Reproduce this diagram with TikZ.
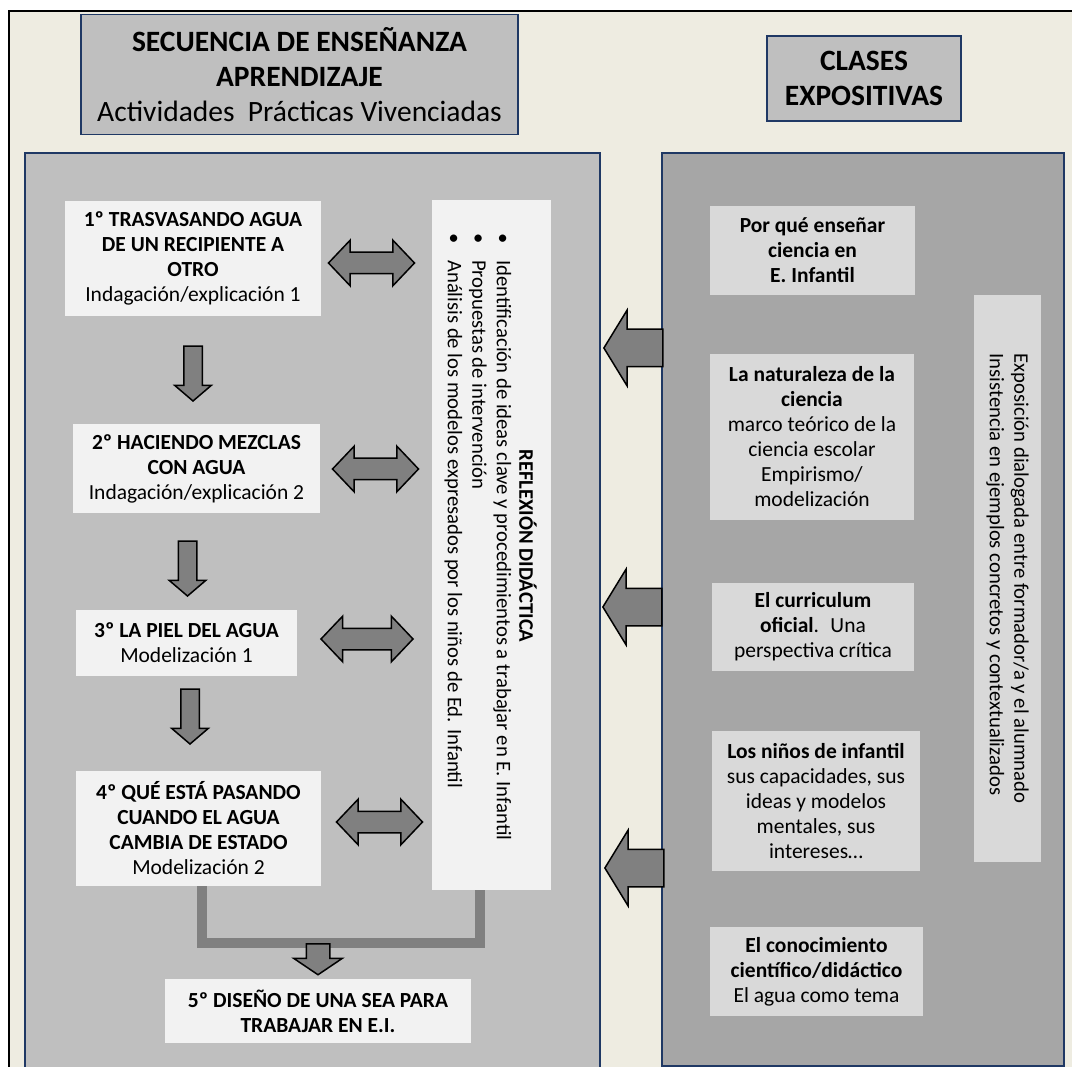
\documentclass[tikz,border=0pt]{standalone}
\usepackage{fontspec}
\setmainfont{Carlito}
\usetikzlibrary{shapes.arrows}

\definecolor{fondo}{HTML}{EEECE1}
\definecolor{marino}{HTML}{1F3864}
\definecolor{grisclaro}{HTML}{BFBFBF}
\definecolor{grismedio}{HTML}{A6A6A6}
\definecolor{griscaja}{HTML}{D9D9D9}
\definecolor{blanco}{HTML}{F2F2F2}
\definecolor{grisflecha}{HTML}{808080}

\begin{document}
\begin{tikzpicture}[x=1pt, y=-1pt,
        txt/.style={font=\fontsize{21.5}{25}\selectfont, align=center, inner sep=0pt},
        girado/.style={font=\fontsize{20.7}{24.5}\selectfont, inner sep=0pt, rotate=-90},
        cabecera/.style={draw=marino, line width=1.2pt, fill=grisclaro, inner sep=0pt,
            align=center, font=\fontsize{29.5}{35}\selectfont},
        actividad/.style={txt, fill=blanco},
        tema/.style={txt, fill=griscaja},
        bajada/.style={single arrow, draw=black, line width=1.5pt, fill=grisflecha,
            shape border rotate=270, inner xsep=8.5pt, inner ysep=0pt,
            minimum height=55pt, single arrow head extend=9pt,
            single arrow tip angle=99, anchor=tip},
        aporte/.style={single arrow, draw=black, line width=1.5pt, fill=grisflecha,
            shape border rotate=180, inner xsep=0pt, inner ysep=18pt,
            minimum height=59pt, single arrow head extend=19pt,
            single arrow tip angle=117, anchor=tip},
        vaiven/.style={double arrow, draw=black, line width=1.5pt, fill=grisflecha,
            inner xsep=0pt, inner ysep=10pt, minimum height=86pt,
            double arrow head extend=12pt, double arrow tip angle=93},
    ]
    \clip (0,0) rectangle (1072,1067);

    % ===== FONDO =====
    \fill[white] (0,0) rectangle (1072,1067);
    \fill[fondo] (9,11) rectangle (1072,1067);
    \draw[black, line width=2.5pt] (9,1070) -- (9,11) -- (1075,11);

    % ===== CABECERAS =====
    \node[cabecera, minimum width=437pt, minimum height=120pt] (secuencia) at (299.5,74.5)
        {\textbf{SECUENCIA DE ENSEÑANZA}\\\textbf{APRENDIZAJE}\\Actividades~ Prácticas Vivenciadas};
    \node[cabecera, minimum width=194pt, minimum height=85pt] (clases) at (864,78.5)
        {\textbf{CLASES}\\\textbf{EXPOSITIVAS}};

    % ===== PANELES =====
    \filldraw[fill=grisclaro, draw=marino, line width=2pt] (25,153) rectangle (600,1085);
    \filldraw[fill=grismedio, draw=marino, line width=2pt] (662,153) rectangle (1064,1066);

    % actividades practicas
    \node[actividad, minimum width=256pt, minimum height=115pt] (trasvase) at (193,258.5)
        {\textbf{1º TRASVASANDO AGUA}\\\textbf{DE UN RECIPIENTE A}\\\textbf{OTRO}\\Indagación/explicación 1};
    \node[actividad, minimum width=247pt, minimum height=89pt] (mezclas) at (196.5,468.5)
        {\textbf{2º HACIENDO MEZCLAS}\\\textbf{CON AGUA}\\Indagación/explicación 2};
    \node[actividad, minimum width=221pt, minimum height=66pt] (piel) at (186.5,643)
        {\textbf{3º LA PIEL DEL AGUA}\\Modelización 1};
    \node[actividad, minimum width=245pt, minimum height=115pt] (estado) at (198.5,828.5)
        {\textbf{4º QUÉ ESTÁ PASANDO}\\\textbf{CUANDO EL AGUA}\\\textbf{CAMBIA DE ESTADO}\\Modelización 2};
    \node[actividad, minimum width=306pt, minimum height=64pt] (diseno) at (318,1011)
        {\textbf{5º DISEÑO DE UNA SEA PARA}\\\textbf{TRABAJAR EN E.I.}};

    % reflexion didactica (texto girado)
    \node[actividad, minimum width=119pt, minimum height=690pt] (reflexion) at (491.5,545) {};
    \node[girado] (reflexiontit) at (528,546) {\textbf{REFLEXIÓN DIDÁCTICA}};
    \node[girado, align=left, anchor=west] (reflexionlista) at (478,233)
        {\makebox[27pt][l]{\textbullet}Identificación de ideas clave y procedimientos a trabajar en E. Infantil\\
         \makebox[27pt][l]{\textbullet}Propuestas de intervención\\
         \makebox[27pt][l]{\textbullet}Análisis de los modelos expresados por los niños de Ed. Infantil};

    % flechas de la secuencia
    \node[bajada] (d1) at (193,402) {};
    \node[bajada] (d2) at (187.5,597) {};
    \node[bajada] (d3) at (190,745) {};

    \node[vaiven] (h1) at (371.5,263) {};
    \node[vaiven] (h2) at (375.5,469) {};
    \node[vaiven, minimum height=92pt] (h3) at (367,639) {};
    \node[vaiven] (h4) at (379.5,822) {};

    % union hacia el diseno
    \coordinate (cola5) at (318,943);
    \draw[grisflecha, line width=10pt] ([xshift=3pt]estado.south) |- (cola5)
        -| ([xshift=-11.5pt]reflexion.south);
    \node[bajada, inner xsep=11pt, single arrow head extend=12.5pt, minimum height=31pt,
        single arrow tip angle=112, anchor=tail] (d5) at (cola5) {};

    % clases expositivas
    \node[tema, minimum width=205pt, minimum height=89pt] (porque) at (812.5,250.5)
        {\textbf{Por qué enseñar}\\\textbf{ciencia en}\\\textbf{E. Infantil}};
    \node[tema, minimum width=204pt, minimum height=166pt] (naturaleza) at (812,437)
        {\textbf{La naturaleza de la}\\\textbf{ciencia}\\marco teórico de la\\ciencia escolar\\Empirismo/\\modelización};
    \node[tema, minimum width=202pt, minimum height=88pt] (curriculum) at (813,627)
        {\textbf{El curriculum}\\\textbf{oficial}.~ Una\\perspectiva crítica};
    \node[tema, minimum width=208pt, minimum height=140pt] (ninos) at (816,801)
        {\textbf{Los niños de infantil}\\sus capacidades, sus\\ideas y modelos\\mentales, sus\\intereses…};
    \node[tema, minimum width=213pt, minimum height=89pt] (conocimiento) at (816.5,971.5)
        {\textbf{El conocimiento}\\\textbf{científico/didáctico}\\El agua como tema};
    \node[tema, girado, align=left, minimum width=567pt, minimum height=67pt] (exposicion) at (1007.5,578.5)
        {Exposición dialogada entre formador/a y el alumnado\\Insistencia en ejemplos concretos y contextualizados};

    % aportes hacia la secuencia
    \node[aporte] (a1) at (603,348) {};
    \node[aporte] (a2) at (602,607) {};
    \node[aporte] (a3) at (604,868) {};
\end{tikzpicture}
\end{document}
